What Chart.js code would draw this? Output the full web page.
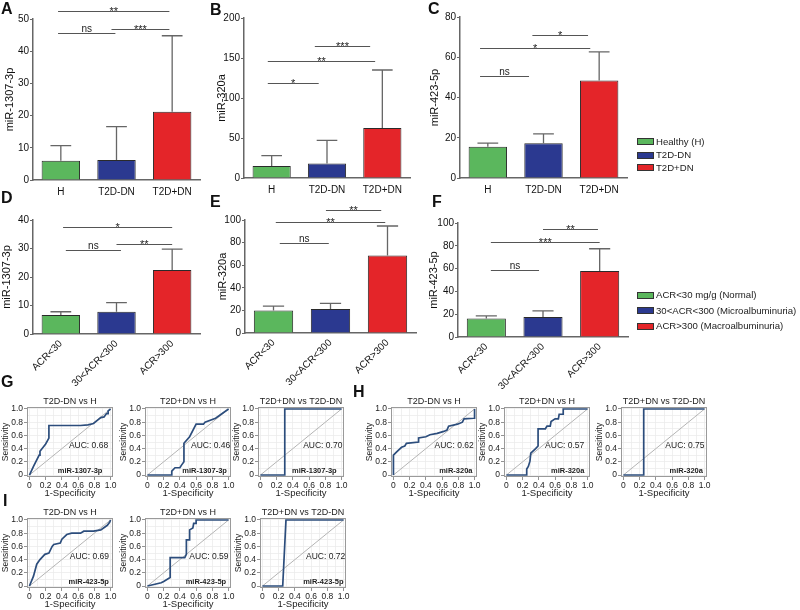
<!DOCTYPE html>
<html><head><meta charset="utf-8">
<script src="https://cdn.jsdelivr.net/npm/chart.js@4.4.1/dist/chart.umd.min.js"></script>
<style>
body{margin:0;background:#fff;width:800px;height:610px;position:relative;overflow:hidden;font-family:'Liberation Sans',Arial,sans-serif;}
canvas{position:absolute;}
.lbl{position:absolute;font-weight:bold;font-size:16px;line-height:16px;color:#111;}
.lgbox{position:absolute;width:17px;height:7px;border:1px solid #333;box-sizing:border-box;}
.lgtxt{position:absolute;font-size:9.6px;line-height:12px;color:#222;white-space:nowrap;}
</style></head><body>
<script>
// ---------------- DATA ----------------
const groupCats = ['H', 'T2D-DN', 'T2D+DN'];
const acrCats = ['ACR<30', '30<ACR<300', 'ACR>300'];
const groupLegend = ['Healthy (H)', 'T2D-DN', 'T2D+DN'];
const acrLegend = ['ACR<30 mg/g (Normal)', '30<ACR<300 (Microalbuminuria)', 'ACR>300 (Macroalbuminuria)'];
const barColors = ['#5bb75d', '#2b3990', '#e42529'];

// Panel A-C: by group (mean, error)
const mir1307Group = [6.0, 6.2, 21.2];
const mir1307GroupErr = [4.7, 10.4, 23.6];
const mir320aGroup = [15.0, 18.0, 62.5];
const mir320aGroupErr = [13.0, 29.0, 72.5];
const mir423Group = [15.5, 17.3, 48.5];
const mir423GroupErr = [1.8, 4.6, 14.2];
// Panel D-F: by ACR
const mir1307Acr = [6.7, 7.8, 22.5];
const mir1307AcrErr = [1.1, 3.2, 7.3];
const mir320aAcr = [20.0, 21.2, 68.5];
const mir320aAcrErr = [3.8, 5.0, 26.2];
const mir423Acr = [16.2, 17.6, 57.9];
const mir423AcrErr = [2.3, 5.3, 19.5];

// ROC curves (1-specificity, sensitivity)
const rocTitles = ['T2D-DN vs H', 'T2D+DN vs H', 'T2D+DN vs T2D-DN'];
const rocMirs = ['miR-1307-3p', 'miR-320a', 'miR-423-5p'];
const auc1307 = [0.68, 0.46, 0.70];
const auc320a = [0.62, 0.57, 0.75];
const auc423 = [0.69, 0.59, 0.72];

const g1Fpr = [0, 0.05, 0.12, 0.13, 0.2, 0.24, 0.24, 0.4, 0.63, 0.72, 0.79, 0.84, 0.88, 0.92, 0.95, 0.97, 0.97, 1.0];
const g1Tpr = [0, 0.13, 0.3, 0.36, 0.47, 0.56, 0.75, 0.75, 0.75, 0.76, 0.78, 0.83, 0.87, 0.88, 0.93, 0.93, 0.97, 1.0];
const g2Fpr = [0, 0.3, 0.3, 0.34, 0.4, 0.42, 0.45, 0.45, 0.52, 0.6, 0.69, 0.71, 0.84, 1.0];
const g2Tpr = [0, 0, 0.06, 0.11, 0.11, 0.15, 0.2, 0.48, 0.58, 0.77, 0.77, 0.8, 0.86, 1.0];
const g3Fpr = [0, 0.3, 0.3, 1.0];
const g3Tpr = [0, 0, 1.0, 1.0];

const h1Fpr = [0, 0, 0.04, 0.1, 0.14, 0.16, 0.31, 0.31, 0.4, 0.45, 0.54, 0.62, 0.66, 0.68, 0.79, 0.85, 0.87, 0.99, 1.0, 1.0];
const h1Tpr = [0, 0.3, 0.35, 0.42, 0.44, 0.48, 0.5, 0.56, 0.58, 0.61, 0.63, 0.66, 0.68, 0.74, 0.77, 0.8, 0.85, 0.86, 0.86, 1.0];
const h2Fpr = [0, 0.25, 0.25, 0.27, 0.29, 0.3, 0.36, 0.39, 0.39, 0.48, 0.5, 0.54, 0.55, 0.6, 0.64, 0.65, 0.7, 0.7, 1.0];
const h2Tpr = [0, 0, 0.09, 0.13, 0.21, 0.33, 0.4, 0.44, 0.7, 0.7, 0.74, 0.74, 0.81, 0.85, 0.85, 0.92, 0.92, 1.0, 1.0];
const h3Fpr = [0, 0.25, 0.25, 1.0];
const h3Tpr = [0, 0, 1.0, 1.0];

const i1Fpr = [0, 0.05, 0.09, 0.13, 0.19, 0.24, 0.28, 0.3, 0.38, 0.4, 0.46, 0.52, 0.63, 0.67, 0.79, 0.88, 0.96, 0.99, 1.0];
const i1Tpr = [0, 0.15, 0.33, 0.4, 0.48, 0.5, 0.6, 0.63, 0.65, 0.71, 0.78, 0.8, 0.8, 0.83, 0.83, 0.85, 0.92, 0.97, 1.0];
const i2Fpr = [0, 0.17, 0.2, 0.28, 0.28, 0.46, 0.48, 0.48, 0.52, 0.52, 0.56, 0.57, 0.6, 0.6, 1.0];
const i2Tpr = [0, 0.05, 0.07, 0.13, 0.43, 0.43, 0.48, 0.7, 0.7, 0.85, 0.88, 0.95, 0.95, 1.0, 1.0];
const i3Fpr = [0, 0.25, 0.29, 1.0];
const i3Tpr = [0, 0, 1.0, 1.0];
const rocTicks = [0, 0.1, 0.2, 0.3, 0.4, 0.5, 0.6, 0.7, 0.8, 0.9, 1.0];

// ---------------- RENDER ----------------
const FONT = "'Liberation Sans', Arial, sans-serif";
Chart.defaults.font.family = FONT;
Chart.defaults.color = '#222';

function mkCanvas(left, top, w, h) {
  const cv = document.createElement('canvas');
  cv.width = w; cv.height = h;
  cv.style.left = Math.round(left) + 'px'; cv.style.top = Math.round(top) + 'px';
  document.body.appendChild(cv);
  return cv;
}
function letter(t, x, capTop) {
  const d = document.createElement('div');
  d.className = 'lbl'; d.textContent = t;
  d.style.left = x + 'px'; d.style.top = (capTop - 3) + 'px';
  document.body.appendChild(d);
}
function legend(items, x, centers) {
  items.forEach((t, i) => {
    const b = document.createElement('div');
    b.className = 'lgbox'; b.style.background = barColors[i];
    b.style.left = x + 'px'; b.style.top = (centers[i] - 3.5) + 'px';
    document.body.appendChild(b);
    const s = document.createElement('div');
    s.className = 'lgtxt'; s.textContent = t;
    s.style.left = (x + 19) + 'px'; s.style.top = (centers[i] - 6) + 'px';
    document.body.appendChild(s);
  });
}

const barPlugin = {
  id: 'barDeco',
  afterDatasetsDraw(chart, args, opts) {
    const {ctx, scales: {x, y}} = chart;
    const meta = chart.getDatasetMeta(0);
    const ds = chart.data.datasets[0];
    ctx.save();
    ctx.strokeStyle = '#666'; ctx.lineWidth = 1.3;
    meta.data.forEach((bar, i) => {
      const top = y.getPixelForValue(ds.data[i] + ds.errors[i]);
      const half = bar.width * 0.27;
      ctx.beginPath();
      ctx.moveTo(bar.x, bar.y); ctx.lineTo(bar.x, top);
      ctx.moveTo(bar.x - half, top); ctx.lineTo(bar.x + half, top);
      ctx.stroke();
    });
    ctx.strokeStyle = '#555'; ctx.lineWidth = 1.1;
    ctx.fillStyle = '#222'; ctx.textAlign = 'center';
    (opts.items || []).forEach(b => {
      const x1 = x.getPixelForValue(b.from), x2 = x.getPixelForValue(b.to);
      const yy = Math.round(y.getPixelForValue(b.y)) + 0.5;
      ctx.beginPath(); ctx.moveTo(x1, yy); ctx.lineTo(x2, yy); ctx.stroke();
      const isNs = b.t === 'ns';
      ctx.font = (isNs ? '10px ' : '11px ') + FONT;
      ctx.textBaseline = 'alphabetic';
      ctx.fillText(b.t, (x1 + x2) / 2, isNs ? yy - 2 : yy + 3);
    });
    ctx.restore();
  }
};

function makeBar(c) {
  const cv = mkCanvas(c.cl, c.ct, c.w, c.h);
  const padLeft = c.titleX - 6.6 - c.cl;
  const yW = c.L - c.cl - padLeft;
  const padTop = c.T - c.ct;
  const padRight = c.cl + c.w - c.R;
  const xH = c.ct + c.h - c.B;
  new Chart(cv, {
    type: 'bar',
    data: {labels: c.labels, datasets: [{data: c.means, errors: c.errs, backgroundColor: barColors,
      borderColor: '#2a2a2a', borderWidth: 1, barPercentage: 0.69, categoryPercentage: 1}]},
    options: {
      responsive: false, animation: false, devicePixelRatio: 1,
      layout: {padding: {left: padLeft, top: padTop, right: padRight, bottom: 0}},
      plugins: {legend: {display: false}, tooltip: {enabled: false}, barDeco: {items: c.brackets}},
      scales: {
        x: {grid: {display: false, drawTicks: false}, border: {color: '#666', width: 1.5},
          ticks: {color: '#111', font: {size: 10}, padding: c.rot ? 4 : 6, autoSkip: false,
            maxRotation: c.rot ? 45 : 0, minRotation: c.rot ? 45 : 0},
          afterFit: s => { s.height = xH; }},
        y: {min: 0, max: c.max, ticks: {stepSize: c.step, color: '#111', font: {size: 10}, padding: 1},
          grid: {display: true, drawOnChartArea: false, drawTicks: true, tickLength: 3, tickColor: '#666'},
          border: {color: '#666', width: 1.5},
          title: {display: true, text: c.title, font: {size: 11}, padding: 0, color: '#111'},
          afterFit: s => { s.width = yW; }}
      }
    },
    plugins: [barPlugin]
  });
}

makeBar({cl: 0, ct: 0, w: 212, h: 200, L: 33, R: 200, T: 19, B: 180, titleX: 10,
  labels: groupCats, means: mir1307Group, errs: mir1307GroupErr, max: 50, step: 10, title: 'miR-1307-3p',
  brackets: [{from: -0.05, to: 1.95, y: 52.5, t: '**'}, {from: -0.05, to: 0.98, y: 45.5, t: 'ns'}, {from: 0.91, to: 1.95, y: 46.9, t: '***'}]});
makeBar({cl: 200, ct: 0, w: 220, h: 200, L: 244, R: 410, T: 18, B: 178, titleX: 222,
  labels: groupCats, means: mir320aGroup, errs: mir320aGroupErr, max: 200, step: 50, title: 'miR-320a',
  brackets: [{from: -0.07, to: 0.85, y: 118.7, t: '*'}, {from: -0.07, to: 1.87, y: 145.8, t: '**'}, {from: 0.78, to: 1.78, y: 165.4, t: '***'}]});
makeBar({cl: 420, ct: 0, w: 215, h: 200, L: 460, R: 627, T: 17, B: 178, titleX: 435,
  labels: groupCats, means: mir423Group, errs: mir423GroupErr, max: 80, step: 20, title: 'miR-423-5p',
  brackets: [{from: 0.8, to: 1.8, y: 71, t: '*'}, {from: -0.14, to: 1.84, y: 64.4, t: '*'}, {from: -0.14, to: 0.74, y: 50.8, t: 'ns'}]});
makeBar({cl: 0, ct: 190, w: 212, h: 205, L: 33, R: 200, T: 220, B: 334, titleX: 7, rot: true,
  labels: acrCats, means: mir1307Acr, errs: mir1307AcrErr, max: 40, step: 10, title: 'miR-1307-3p',
  brackets: [{from: 0.04, to: 2.0, y: 37.4, t: '*'}, {from: 0.09, to: 1.08, y: 29.4, t: 'ns'}, {from: 1.0, to: 2.0, y: 31.5, t: '**'}]});
makeBar({cl: 200, ct: 190, w: 225, h: 205, L: 245, R: 416, T: 220, B: 333, titleX: 223, rot: true,
  labels: acrCats, means: mir320aAcr, errs: mir320aAcrErr, max: 100, step: 20, title: 'miR-320a',
  brackets: [{from: 0.92, to: 1.89, y: 108.8, t: '**'}, {from: 0.04, to: 1.96, y: 98.5, t: '**'}, {from: 0.11, to: 0.97, y: 80, t: 'ns'}]});
makeBar({cl: 420, ct: 190, w: 215, h: 205, L: 458, R: 628, T: 223, B: 337, titleX: 434, rot: true,
  labels: acrCats, means: mir423Acr, errs: mir423AcrErr, max: 100, step: 20, title: 'miR-423-5p',
  brackets: [{from: 1.0, to: 1.97, y: 94.7, t: '**'}, {from: 0.08, to: 2.0, y: 83.2, t: '***'}, {from: 0.08, to: 0.93, y: 58.8, t: 'ns'}]});

legend(groupLegend, 637, [141.7, 155, 167.7]);
legend(acrLegend, 637, [295, 310.7, 326]);

const rocPlugin = {
  id: 'rocDeco',
  afterDraw(chart, args, o) {
    const {ctx, chartArea: a, scales: {x, y}} = chart;
    ctx.save();
    ctx.strokeStyle = '#9a9a9a'; ctx.lineWidth = 1;
    ctx.strokeRect(Math.round(a.left) + 0.5, Math.round(a.top) + 0.5, Math.round(a.right - a.left) - 1, Math.round(a.bottom - a.top) - 1);
    ctx.fillStyle = '#222'; ctx.textAlign = 'right'; ctx.textBaseline = 'middle';
    ctx.font = '8.5px ' + FONT;
    ctx.fillText('AUC: ' + o.auc.toFixed(2), x.getPixelForValue(o.aucX), y.getPixelForValue(0.44));
    ctx.font = 'bold 7.5px ' + FONT;
    ctx.fillText(o.mir, x.getPixelForValue(o.mirX), y.getPixelForValue(0.06));
    ctx.restore();
  }
};
const tickLabel = v => { const k = Math.round(v * 10); return k % 2 ? '' : (k === 0 ? '0' : (k / 10).toFixed(1)); };
const tickCol = c => (c.tick && Math.round(c.tick.value * 10) % 2 === 0) ? '#777' : 'rgba(0,0,0,0)';
function rocAxis(title, isX) {
  return {
    type: 'linear', min: -0.03, max: 1.03,
    afterBuildTicks: s => { s.ticks = rocTicks.map(v => ({value: v})); },
    ticks: {callback: tickLabel, autoSkip: false, font: {size: 8.5}, color: '#222', padding: 1, maxRotation: 0},
    grid: {color: '#ececec', lineWidth: 0.8, tickColor: tickCol, tickLength: 3},
    border: {display: false},
    title: {display: true, text: title, font: {size: isX ? 9.5 : 8.5}, padding: 0, color: '#222'},
    afterFit: isX ? (s => { s.height = 22; }) : (s => { s.width = 26; })
  };
}
function makeROC(x0, y1, title, fpr, tpr, auc, mir, aucX, mirX) {
  const u = 81.1, yW = 26;
  const cv = mkCanvas(x0 - 0.03 * u - yW, y1 - 0.03 * 66 - 16, 124, 108);
  new Chart(cv, {
    type: 'scatter',
    data: {datasets: [
      {data: fpr.map((v, i) => ({x: v, y: tpr[i]})), showLine: true, borderColor: '#2c4d7c', borderWidth: 1.7, pointRadius: 0, tension: 0},
      {data: [{x: 0, y: 0}, {x: 1, y: 1}], showLine: true, borderColor: '#b4b4b4', borderWidth: 1, pointRadius: 0}
    ]},
    options: {
      responsive: false, animation: false, devicePixelRatio: 1,
      layout: {padding: {left: 0, right: 12, top: 0, bottom: 0}},
      plugins: {legend: {display: false}, tooltip: {enabled: false},
        title: {display: true, fullSize: false, text: title, font: {size: 9, weight: 'normal'}, color: '#222', padding: {top: 5.2, bottom: 0}},
        rocDeco: {auc: auc, mir: mir, aucX: aucX, mirX: mirX}},
      scales: {x: rocAxis('1-Specificity', true), y: rocAxis('Sensitivity', false)}
    },
    plugins: [rocPlugin]
  });
}
// G: miR-1307-3p
makeROC(29, 409, rocTitles[0], g1Fpr, g1Tpr, auc1307[0], rocMirs[0], 0.97, 0.9);
makeROC(147, 409, rocTitles[1], g2Fpr, g2Tpr, auc1307[1], rocMirs[0], 1.02, 0.98);
makeROC(260, 409, rocTitles[2], g3Fpr, g3Tpr, auc1307[2], rocMirs[0], 1.01, 0.94);
// H: miR-320a
makeROC(393, 409, rocTitles[0], h1Fpr, h1Tpr, auc320a[0], rocMirs[1], 0.99, 0.975);
makeROC(506, 409, rocTitles[1], h2Fpr, h2Tpr, auc320a[1], rocMirs[1], 0.96, 0.96);
makeROC(623, 409, rocTitles[2], h3Fpr, h3Tpr, auc320a[2], rocMirs[1], 1.0, 0.98);
// I: miR-423-5p
makeROC(29, 520, rocTitles[0], i1Fpr, i1Tpr, auc423[0], rocMirs[2], 0.98, 0.98);
makeROC(147, 520, rocTitles[1], i2Fpr, i2Tpr, auc423[1], rocMirs[2], 1.0, 0.97);
makeROC(262, 520, rocTitles[2], i3Fpr, i3Tpr, auc423[2], rocMirs[2], 1.02, 1.0);

letter('A', 1, 4); letter('B', 210, 5); letter('C', 428, 4);
letter('D', 1, 193); letter('E', 210, 197); letter('F', 432, 197);
letter('G', 1, 377); letter('H', 353, 387); letter('I', 3, 496);
</script>
</body></html>
